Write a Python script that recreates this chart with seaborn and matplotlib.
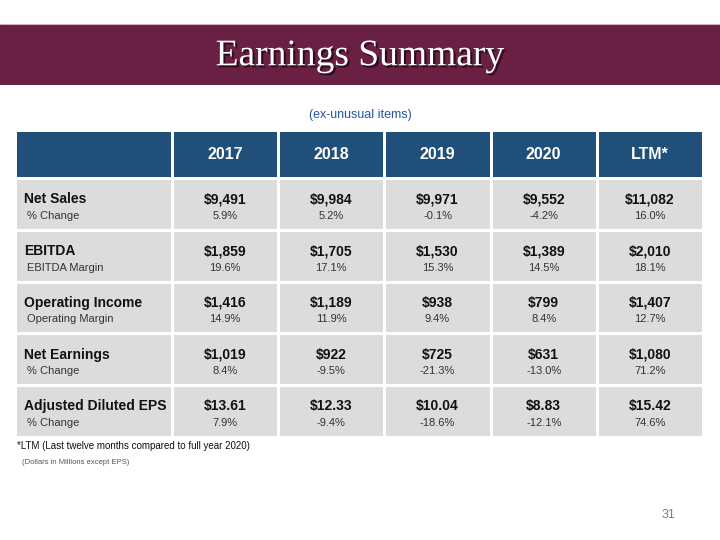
import numpy as np
import matplotlib
matplotlib.use("Agg")
import matplotlib.pyplot as plt
import matplotlib.patheffects as pe
from matplotlib.colors import ListedColormap
import seaborn as sns

# data
columns = ["2017", "2018", "2019", "2020", "LTM*"]
metrics = ["Net Sales", "EBITDA", "Operating Income", "Net Earnings", "Adjusted Diluted EPS"]
sub_labels = ["% Change", "EBITDA Margin", "Operating Margin", "% Change", "% Change"]
net_sales = [9491, 9984, 9971, 9552, 11082]
net_sales_chg = [5.9, 5.2, -0.1, -4.2, 16.0]
ebitda = [1859, 1705, 1530, 1389, 2010]
ebitda_margin = [19.6, 17.1, 15.3, 14.5, 18.1]
op_income = [1416, 1189, 938, 799, 1407]
op_margin = [14.9, 11.9, 9.4, 8.4, 12.7]
net_earnings = [1019, 922, 725, 631, 1080]
net_earnings_chg = [8.4, -9.5, -21.3, -13.0, 71.2]
eps = [13.61, 12.33, 10.04, 8.83, 15.42]
eps_chg = [7.9, -9.4, -18.6, -12.1, 74.6]

main_vals = [net_sales, ebitda, op_income, net_earnings, eps]
sub_vals = [net_sales_chg, ebitda_margin, op_margin, net_earnings_chg, eps_chg]

MAROON = "#6a1f45"
BLUE = "#204f79"
GRAY = "#dcdcdc"

sns.set_theme(style="white")
plt.rcParams["font.family"] = ["Liberation Sans", "DejaVu Sans"]

W, H = 720, 540
fig = plt.figure(figsize=(7.2, 5.4), dpi=100)


def box(x0, y0, x1, y1):
    return [x0 / W, 1 - y1 / H, (x1 - x0) / W, (y1 - y0) / H]


# background axes in pixel coordinates
bg = fig.add_axes([0, 0, 1, 1])
bg.set_xlim(0, W)
bg.set_ylim(H, 0)
bg.axis("off")

bg.add_patch(plt.Rectangle((0, 24), W, 61, color=MAROON, lw=0))
bg.axhline(24, color="#c9b3be", lw=0.8)
bg.text(360, 56, "Earnings Summary", color="white", fontsize=27,
        family=["Liberation Serif", "DejaVu Serif"], ha="center", va="center",
        path_effects=[pe.withSimplePatchShadow(offset=(1.5, -1.5), shadow_rgbFace="black", alpha=0.6)])
bg.text(360, 115, "(ex-unusual items)", color="#2456a0", fontsize=9, ha="center", va="center")

bg.text(17, 446, "*LTM (Last twelve months compared to full year 2020)", color="#111111",
        fontsize=7, ha="left", va="center")
bg.text(22, 463, "(Dollars in Millions except EPS)", color="#555555",
        fontsize=5.5, ha="left", va="center")
bg.text(669, 515, "31", color="#808080", fontsize=9, ha="center", va="center")

x_left, x_split, x_right = 15, 172, 703
y_top, y_head, y_bot = 130, 178, 437
lw = 0.9


def grid(rect, nrows, ncols, color):
    ax = fig.add_axes(rect)
    sns.heatmap(np.zeros((nrows, ncols)), cmap=ListedColormap([color]), cbar=False,
                linewidths=lw, linecolor="white", xticklabels=False, yticklabels=False, ax=ax)
    return ax


# header
grid(box(x_left, y_top, x_split, y_head), 1, 1, BLUE)
hv = grid(box(x_split, y_top, x_right, y_head), 1, len(columns), BLUE)
for j, c in enumerate(columns):
    hv.text(j + 0.5, 0.52, c, color="white", fontsize=11.5, fontweight="bold",
            ha="center", va="center")

# body
bl = grid(box(x_left, y_head, x_split, y_bot), len(metrics), 1, GRAY)
bv = grid(box(x_split, y_head, x_right, y_bot), len(metrics), len(columns), GRAY)

for i, (m, s) in enumerate(zip(metrics, sub_labels)):
    bl.text(0.058, i + 0.41, m, color="#111111", fontsize=10, fontweight="bold",
            ha="left", va="center")
    bl.text(0.078, i + 0.73, s, color="#333333", fontsize=8, ha="left", va="center")
    for j in range(len(columns)):
        v = main_vals[i][j]
        txt = f"${v:.2f}" if m == "Adjusted Diluted EPS" else f"${v:,}"
        bv.text(j + 0.5, i + 0.41, txt, color="#111111", fontsize=10, fontweight="bold",
                ha="center", va="center")
        bv.text(j + 0.5, i + 0.73, f"{sub_vals[i][j]:.1f}%", color="#333333", fontsize=8,
                ha="center", va="center")

fig.savefig("out.png", dpi=100)
